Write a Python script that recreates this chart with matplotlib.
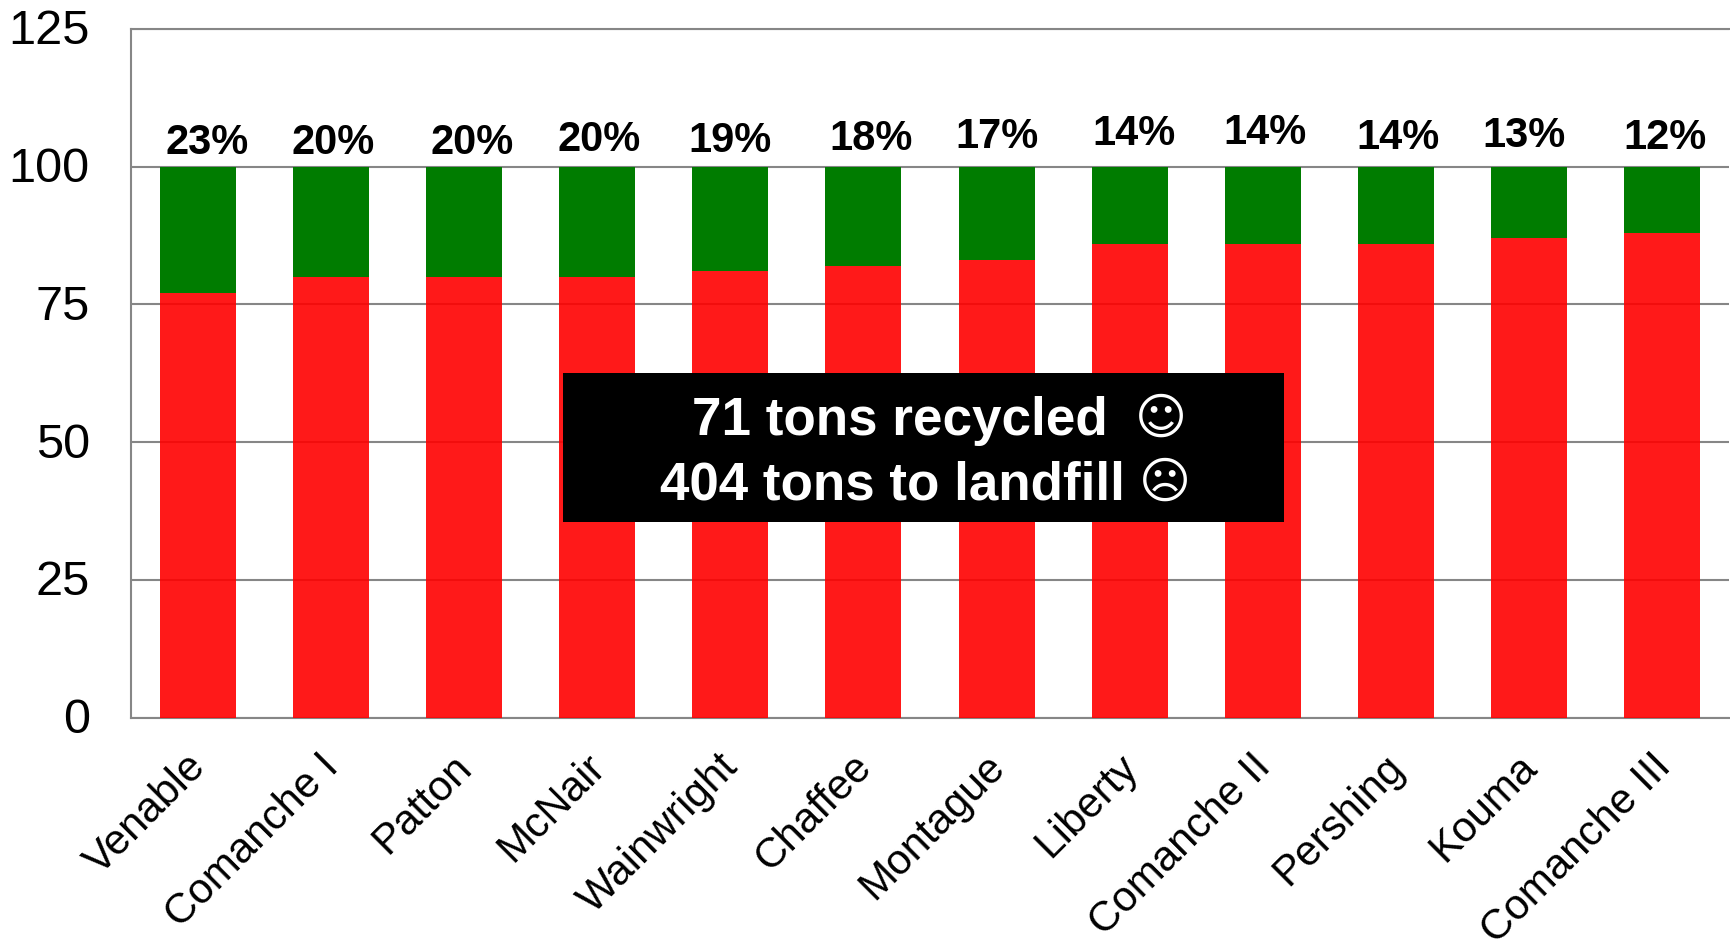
import matplotlib
matplotlib.use('Agg')
import matplotlib.pyplot as plt
from matplotlib.patches import Rectangle
from matplotlib.transforms import ScaledTranslation

plt.rcParams['font.family'] = ['Liberation Sans', 'DejaVu Sans']

sites = ['Venable', 'Comanche I', 'Patton', 'McNair', 'Wainwright', 'Chaffee',
         'Montague', 'Liberty', 'Comanche II', 'Pershing', 'Kouma', 'Comanche III']
landfill = [77, 80, 80, 80, 81, 82, 83, 86, 86, 86, 87, 88]
recycled = [23, 20, 20, 20, 19, 18, 17, 14, 14, 14, 13, 12]
yticks = [0, 25, 50, 75, 100, 125]

# hand placed percent labels, the source chart has them nudged around (in pixels)
label_dx = [10, 2, 8, 2, 0, 8, 0, 4, 2, 2, -5, 3]
label_dy = [0, 0, 0, 3, 2, 4, 6, 9, 10, 5, 7, 5]

W, H = 1730, 944
GRAY = '#868686'

fig = plt.figure(figsize=(W/100, H/100), dpi=100)
ax = fig.add_axes([131/W, 1 - 717.5/H, 1598/W, (717.5 - 29)/H])

xs = list(range(len(sites)))
ax.bar(xs, landfill, width=0.57, color='#ff0000', alpha=0.9, lw=0, zorder=3)
ax.bar(xs, recycled, bottom=landfill, width=0.57, color='#007c00', lw=0, zorder=3)

for i, pct in enumerate(recycled):
    ax.annotate('%d%%' % pct, (i, 100), xytext=(label_dx[i]*0.72, 2.5 + label_dy[i]*0.72),
                textcoords='offset points', ha='center', va='bottom',
                fontsize=30, fontweight='bold', color='black', zorder=5)

ax.set_xlim(-0.5, len(sites) - 0.5)
ax.set_ylim(0, 125)
ax.set_yticks(yticks)
ax.yaxis.grid(True, color=GRAY, lw=1.5, zorder=1)
ax.set_axisbelow(True)
ax.tick_params(axis='both', length=0)
ax.tick_params(axis='y', labelsize=35, pad=29.7)
ax.set_xticks(xs)
ax.set_xticklabels(sites, rotation=45, ha='right', va='top', rotation_mode='anchor',
                   fontsize=30.3)
ax.tick_params(axis='x', pad=21)
for s in ['left', 'top', 'bottom']:
    ax.spines[s].set_color(GRAY)
    ax.spines[s].set_linewidth(1.5)
ax.spines['right'].set_visible(False)

# tick labels sit a touch left of / above where matplotlib puts them
shift_x = ScaledTranslation(-12/100, 0, fig.dpi_scale_trans)
for lab in ax.get_xticklabels():
    lab.set_transform(lab.get_transform() + shift_x)
shift_y = ScaledTranslation(0, 2/100, fig.dpi_scale_trans)
for lab in ax.get_yticklabels():
    lab.set_transform(lab.get_transform() + shift_y)

# black callout over the middle of the bars
fig.add_artist(Rectangle((563/W, 1 - 522/H), 721/W, 149/H, transform=fig.transFigure,
                         facecolor='black', edgecolor='none', zorder=10))
fig.text(692/W, 1 - 435/H, '71 tons recycled', color='white', fontsize=38.2,
         fontweight='bold', ha='left', va='baseline', zorder=11)
fig.text(660/W, 1 - 499/H, '404 tons to landfill', color='white', fontsize=38.2,
         fontweight='bold', ha='left', va='baseline', zorder=11)
fig.text(1161/W, 1 - 420/H, '\u263a', color='white', fontsize=36, family='DejaVu Sans',
         ha='center', va='center', zorder=11)
fig.text(1165/W, 1 - 484/H, '\u2639', color='white', fontsize=36, family='DejaVu Sans',
         ha='center', va='center', zorder=11)

fig.savefig('out.png', dpi=100)
